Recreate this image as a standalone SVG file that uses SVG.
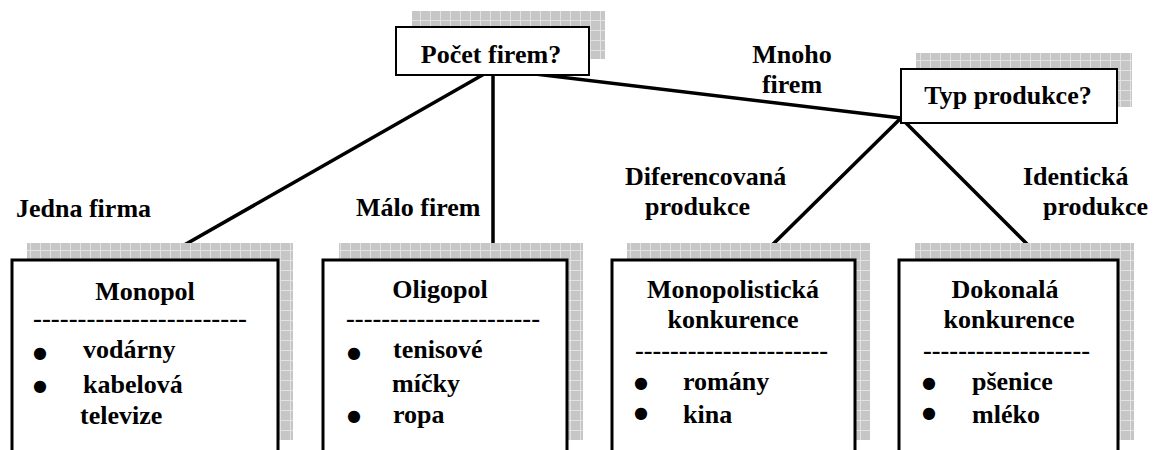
<svg xmlns="http://www.w3.org/2000/svg" width="1153" height="450" viewBox="0 0 1153 450">
<style>
text{font-family:"Liberation Serif","Times New Roman",serif;font-weight:bold;font-size:26px;fill:#000}
.c{text-anchor:middle}
.shadow{fill:url(#grid)}
.box{fill:#fff;stroke:#000;stroke-width:3}
.qbox{fill:#fff;stroke:#000;stroke-width:2}
.conn{stroke:#000;stroke-width:3.5;fill:none;stroke-linecap:round;stroke-linejoin:round}
text.b{font-family:"DejaVu Sans",sans-serif;font-weight:normal;font-size:16px;text-anchor:middle}
</style>
<defs>
<pattern id="grid" width="10" height="10" patternUnits="userSpaceOnUse">
<rect width="10" height="10" fill="#c6c6c6"/>
<path d="M0 0.5H10M0.5 0V10" stroke="#e2e2e2" stroke-width="1"/>
</pattern>
</defs>

<g id="connectors">
<path class="conn" d="M493 69L158 260"/>
<path class="conn" d="M493 69V260"/>
<path class="conn" d="M493 69L901 118"/>
<path class="conn" d="M901 118L757 260"/>
<path class="conn" d="M901 118L1043 260"/>
</g>

<g id="node-pocet">
<rect class="shadow" x="412" y="11" width="193" height="48"/>
<rect class="qbox" x="396" y="27" width="193" height="48"/>
<text class="c" x="491" y="63">Počet firem?</text>
</g>

<g id="node-typ">
<rect class="shadow" x="916" y="53" width="216" height="54"/>
<rect class="qbox" x="901" y="69" width="216" height="54"/>
<text class="c" x="1008" y="104">Typ produkce?</text>
</g>

<g id="labels">
<text x="16" y="217">Jedna firma</text>
<text x="356" y="216">Málo firem</text>
<text class="c" x="792" y="63">Mnoho</text>
<text class="c" x="792" y="93">firem</text>
<text x="625" y="185">Diferencovaná</text>
<text x="645" y="215">produkce</text>
<text x="1023" y="185">Identická</text>
<text x="1043" y="215">produkce</text>
</g>

<g id="node-monopol">
<rect class="shadow" x="27" y="243" width="266" height="197"/>
<rect class="box" x="12" y="260" width="266" height="197"/>
<text class="c" x="145" y="300">Monopol</text>
<text x="33" y="327" textLength="214" lengthAdjust="spacingAndGlyphs">------------------------</text>
<text class="b" x="40" y="358">●</text>
<text x="83" y="358">vodárny</text>
<text class="b" x="40" y="391">●</text>
<text x="83" y="393">kabelová</text>
<text x="80" y="424">televize</text>
</g>

<g id="node-oligopol">
<rect class="shadow" x="339" y="243" width="244" height="197"/>
<rect class="box" x="323" y="260" width="244" height="197"/>
<text class="c" x="440" y="298">Oligopol</text>
<text x="346" y="327" textLength="194" lengthAdjust="spacingAndGlyphs">----------------------</text>
<text class="b" x="354" y="358">●</text>
<text x="393" y="358">tenisové</text>
<text x="392" y="392">míčky</text>
<text class="b" x="354" y="421">●</text>
<text x="393" y="423">ropa</text>
</g>

<g id="node-monopolisticka">
<rect class="shadow" x="627" y="243" width="243" height="197"/>
<rect class="box" x="612" y="260" width="243" height="197"/>
<text class="c" x="733" y="298">Monopolistická</text>
<text class="c" x="733" y="328">konkurence</text>
<text x="635" y="359" textLength="193" lengthAdjust="spacingAndGlyphs">----------------------</text>
<text class="b" x="641" y="388">●</text>
<text x="683" y="390">romány</text>
<text class="b" x="641" y="418">●</text>
<text x="683" y="423">kina</text>
</g>

<g id="node-dokonala">
<rect class="shadow" x="915" y="243" width="219" height="197"/>
<rect class="box" x="899" y="260" width="219" height="197"/>
<text class="c" x="1005" y="298">Dokonalá</text>
<text class="c" x="1009" y="328">konkurence</text>
<text x="923" y="359" textLength="167" lengthAdjust="spacingAndGlyphs">-------------------</text>
<text class="b" x="929" y="388">●</text>
<text x="972" y="390">pšenice</text>
<text class="b" x="929" y="418">●</text>
<text x="972" y="423">mléko</text>
</g>
</svg>
